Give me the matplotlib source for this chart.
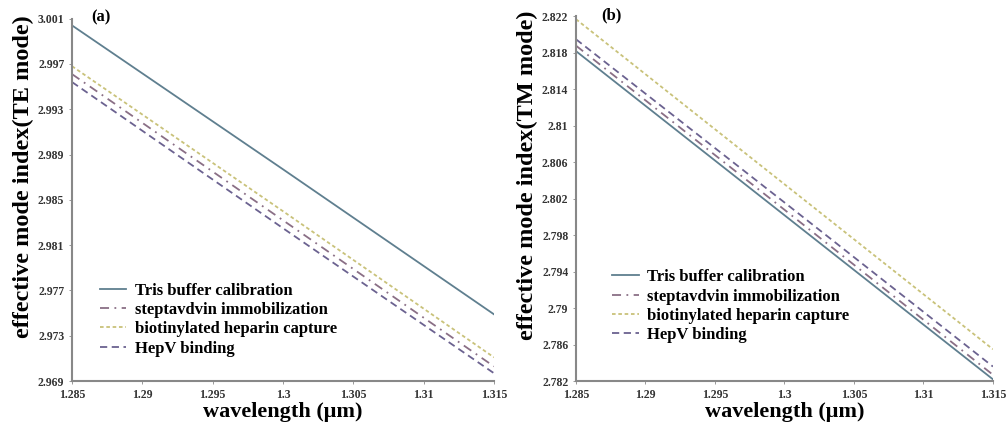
import matplotlib.pyplot as plt

plt.rcParams['font.family'] = ['Liberation Serif', 'DejaVu Serif']
plt.rcParams['font.weight'] = 'bold'

wavelength = [1.285, 1.3, 1.315]
series_names = ['Tris buffer calibration', 'steptavdvin immobilization',
                'biotinylated heparin capture', 'HepV binding']

# TE mode (a)
te_tris = [3.0004, 2.9877, 2.9749]
te_strep = [2.9961, 2.9832, 2.9703]
te_biotin = [2.9968, 2.9840, 2.9711]
te_hepv = [2.9954, 2.9825, 2.9697]

# TM mode (b)
tm_tris = [2.8182, 2.8002, 2.7822]
tm_strep = [2.8188, 2.8008, 2.7827]
tm_biotin = [2.8217, 2.8036, 2.7855]
tm_hepv = [2.8195, 2.8016, 2.7836]

x_ticks = [1.285, 1.29, 1.295, 1.3, 1.305, 1.31, 1.315]
x_labels = ['1.285', '1.29', '1.295', '1.3', '1.305', '1.31', '1.315']
te_ticks = [2.969, 2.973, 2.977, 2.981, 2.985, 2.989, 2.993, 2.997, 3.001]
te_labels = ['2.969', '2.973', '2.977', '2.981', '2.985', '2.989', '2.993', '2.997', '3.001']
tm_ticks = [2.782, 2.786, 2.79, 2.794, 2.798, 2.802, 2.806, 2.81, 2.814, 2.818, 2.822]
tm_labels = ['2.782', '2.786', '2.79', '2.794', '2.798', '2.802', '2.806', '2.81', '2.814', '2.818', '2.822']

styles = [dict(color='#5f7f8f', ls='-', lw=1.3),
          dict(color='#8a6f86', ls=(0, (5, 3, 1, 3)), lw=1.3),
          dict(color='#c9c27a', ls=(0, (2, 1.5)), lw=1.3),
          dict(color='#6b6290', ls=(0, (4, 2.5)), lw=1.3)]

fig = plt.figure(figsize=(10.07, 4.23), dpi=100)
ax1 = fig.add_axes([0.0715, 0.099, 0.419, 0.857])
ax2 = fig.add_axes([0.572, 0.099, 0.414, 0.862])


def panel(ax, data, ticks, labels, ylabel, tag, tag_x, leg_anchor):
    for vals, name, st in zip(data, series_names, styles):
        ax.plot(wavelength, vals, label=name, **st)
    ax.set_xlim(1.285, 1.315)
    ax.set_ylim(ticks[0], ticks[-1])
    ax.set_xticks(x_ticks)
    ax.set_xticklabels(x_labels, fontsize=8.5, fontweight='bold')
    ax.set_yticks(ticks)
    ax.set_yticklabels(labels, fontsize=8.5, fontweight='bold')
    ax.tick_params(length=2, width=0.6, colors='#888888', labelcolor='#333333')
    for s in ['top', 'right']:
        ax.spines[s].set_visible(False)
    for s in ['left', 'bottom']:
        ax.spines[s].set_color('#888888')
        ax.spines[s].set_linewidth(1.5)
    ax.set_xlabel('wavelength (\u03bcm)', fontsize=16, fontweight='bold', labelpad=1)
    ax.set_ylabel(ylabel, fontsize=17.5, fontweight='bold')
    ax.yaxis.set_label_coords(-0.09, 0.565)
    ax.text(tag_x, 1.025, tag, transform=ax.transAxes, fontsize=12,
            fontweight='bold', va='top')
    ax.legend(loc='upper left', bbox_to_anchor=leg_anchor, frameon=False,
              handlelength=1.6, labelspacing=0.2, handletextpad=0.5,
              borderaxespad=0, prop={'weight': 'bold', 'size': 12})


panel(ax1, [te_tris, te_strep, te_biotin, te_hepv], te_ticks, te_labels,
      'effective mode index(TE mode)', '(a)', 0.045, (0.05, 0.29))
panel(ax2, [tm_tris, tm_strep, tm_biotin, tm_hepv], tm_ticks, tm_labels,
      'effective mode index(TM mode)', '(b)', 0.06, (0.07, 0.325))

fig.savefig('out.png', dpi=100)
